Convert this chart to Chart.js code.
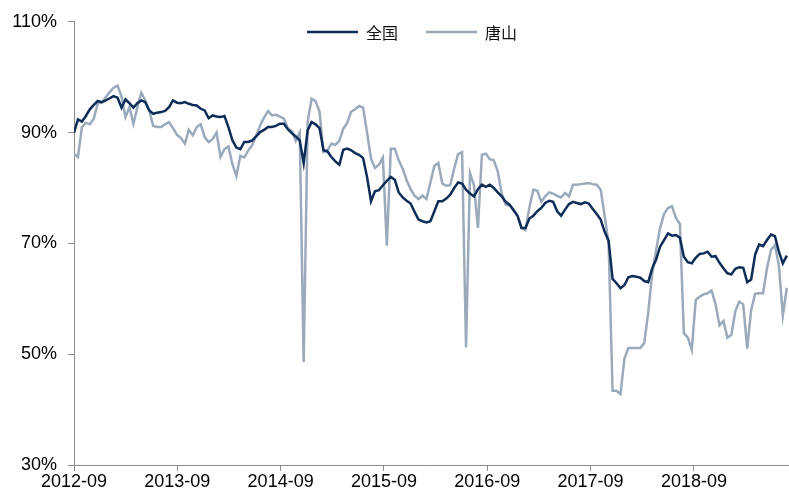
<!DOCTYPE html>
<html lang="zh">
<head>
    <meta charset="UTF-8">
    <title>开工率：全国 vs 唐山</title>
    <script src="https://cdn.jsdelivr.net/npm/chart.js"></script>
    <style>
        html, body {
            margin: 0;
            padding: 0;
            background: #ffffff;
        }
        .wrap {
            width: 789px;
            height: 497px;
            position: relative;
        }
    </style>
</head>
<body>
    <div class="wrap">
        <canvas id="rateChart" width="789" height="497"></canvas>
    </div>

    <script>
        // biweekly readings (%), starting 2012-09
        const quanguo = [
            90.0, 92.4, 92.0, 93.0, 94.2, 95.0, 95.7, 95.5, 95.8, 96.2,
            96.6, 96.3, 94.5, 96.0, 95.3, 94.5, 95.3, 95.8, 95.5, 94.0,
            93.4, 93.6, 93.7, 93.9, 94.6, 95.8, 95.4, 95.3, 95.5, 95.2,
            95.0, 94.9, 94.3, 94.0, 92.6, 93.1, 92.9, 92.8, 93.0, 91.0,
            88.6, 87.3, 87.0, 88.3, 88.3, 88.6, 89.3, 90.1, 90.5, 91.0,
            91.0, 91.2, 91.6, 91.6, 90.6, 89.9, 89.3, 88.6, 84.5, 90.4,
            91.9, 91.5, 90.8, 86.8, 86.6, 85.6, 84.8, 84.2, 86.9, 87.1,
            86.8, 86.3, 86.0, 85.4, 82.0, 77.6, 79.4, 79.6, 80.5, 81.3,
            82.0, 81.5, 79.2, 78.3, 77.7, 77.2, 75.7, 74.3, 74.0, 73.8,
            74.0, 75.8, 77.6, 77.6, 78.1, 78.8, 80.0, 81.0, 80.8, 79.7,
            79.0, 78.5, 79.8, 80.6, 80.2, 80.6, 80.0, 79.2, 78.5, 77.5,
            77.0, 76.0, 75.0, 72.8, 72.8, 74.5, 75.0, 75.8, 76.4, 77.3,
            77.7, 77.5, 75.8, 75.0, 76.1, 77.1, 77.5, 77.3, 77.1, 77.4,
            77.2, 76.2, 75.3, 74.3, 72.1, 70.5, 63.6, 62.8, 61.9, 62.5,
            63.9, 64.1, 64.0, 63.8, 63.2, 63.0, 65.5, 67.1, 69.4, 70.6,
            71.8, 71.4, 71.5, 71.0, 67.6, 66.6, 66.4, 67.4, 68.1, 68.2,
            68.5, 67.6, 67.7, 66.5, 65.5, 64.6, 64.4, 65.4, 65.7, 65.6,
            63.0, 63.5, 68.0, 69.8, 69.5, 70.6, 71.6, 71.3, 68.5, 66.4,
            67.8
        ];

        const tangshan = [
            86.2, 85.6, 91.0, 91.8, 91.5, 92.5, 95.3, 95.4, 96.4, 97.3,
            98.1, 98.5, 96.5, 92.8, 94.6, 91.6, 94.5, 97.2, 95.8, 94.0,
            91.2, 91.0, 91.0, 91.5, 91.9, 90.8, 89.6, 89.0, 88.0, 90.5,
            89.5, 91.0, 91.5, 89.2, 88.3, 88.8, 90.0, 85.6, 87.0, 87.5,
            84.3, 82.2, 85.8, 85.5, 86.8, 87.7, 89.5, 91.3, 92.7, 93.9,
            93.1, 93.2, 92.9, 92.5, 90.8, 90.3, 88.5, 90.0, 48.6, 92.0,
            96.1, 95.7, 93.8, 86.5, 86.8, 88.0, 87.8, 88.5, 90.7, 91.8,
            93.8, 94.2, 94.8, 94.5, 90.0, 85.3, 83.6, 84.2, 85.5, 69.6,
            87.1, 87.1, 85.0, 83.5, 81.4, 79.8, 78.6, 78.0, 78.6, 78.0,
            81.0, 84.0, 84.5, 80.8, 80.4, 80.5, 83.5, 86.1, 86.5, 51.2,
            82.7, 80.5, 72.8, 86.0, 86.2, 85.2, 85.0, 83.0, 79.0, 77.0,
            76.8, 76.1, 75.0, 72.8, 72.4, 76.5, 79.7, 79.5, 77.5, 78.5,
            79.2, 79.0, 78.6, 78.3, 79.1, 78.5, 80.6, 80.6, 80.7, 80.8,
            80.9, 80.7, 80.6, 79.7, 75.0, 70.0, 43.4, 43.4, 42.8, 49.2,
            51.1, 51.1, 51.1, 51.1, 52.0, 57.5, 64.5, 68.8, 72.8, 75.3,
            76.4, 76.7, 74.6, 73.5, 53.8, 53.0, 50.8, 59.8, 60.4, 60.8,
            61.0, 61.5, 59.0, 55.2, 56.0, 53.0, 53.5, 57.8, 59.5, 59.0,
            51.0, 58.0, 60.9, 61.0, 61.0, 65.5, 68.8, 69.7, 66.0, 57.0,
            62.0
        ];

        const tickLabels = ['2012-09', '2013-09', '2014-09', '2015-09', '2016-09', '2017-09', '2018-09'];
        const stepsPerYear = 26.09; // biweekly points in one year

        const navy = '#0d2c57';
        const grey = '#9aaabb';
        const axisGrey = '#8c8c8c';
        const tickFont = { family: "'Liberation Sans', Arial, sans-serif", size: 18 };

        // legend drawn inside the plot, slightly left of centre
        const insideLegend = {
            id: 'insideLegend',
            afterDraw(chart) {
                const ctx = chart.ctx;
                let x = 307;
                const y = 32;
                ctx.save();
                ctx.font = "16px 'Noto Sans CJK SC', sans-serif";
                ctx.textBaseline = 'middle';
                chart.data.datasets.forEach(ds => {
                    ctx.strokeStyle = ds.borderColor;
                    ctx.lineWidth = 2.5;
                    ctx.beginPath();
                    ctx.moveTo(x, y);
                    ctx.lineTo(x + 51, y);
                    ctx.stroke();
                    ctx.fillStyle = '#111';
                    ctx.fillText(ds.label, x + 59, y + 1);
                    x += 59 + ctx.measureText(ds.label).width + 28;
                });
                ctx.restore();
            }
        };

        const ctx = document.getElementById('rateChart').getContext('2d');
        new Chart(ctx, {
            type: 'line',
            data: {
                labels: quanguo.map((_, i) => i),
                datasets: [
                    {
                        label: '全国',
                        data: quanguo,
                        borderColor: navy,
                        backgroundColor: navy,
                        borderWidth: 2.5,
                        pointRadius: 0,
                        tension: 0,
                        fill: false
                    },
                    {
                        label: '唐山',
                        data: tangshan,
                        borderColor: grey,
                        backgroundColor: grey,
                        borderWidth: 2.5,
                        pointRadius: 0,
                        tension: 0,
                        fill: false
                    }
                ]
            },
            options: {
                responsive: false,
                animation: false,
                layout: {
                    padding: { top: 17, right: 1, left: 0, bottom: 0 }
                },
                scales: {
                    x: {
                        type: 'linear',
                        min: 0,
                        max: 180.3,
                        afterBuildTicks: scale => {
                            scale.ticks = tickLabels.map((_, i) => ({ value: i * stepsPerYear }));
                        },
                        afterFit: scale => { scale.height = 32; },
                        ticks: {
                            autoSkip: false,
                            maxRotation: 0,
                            padding: 0,
                            color: '#000',
                            font: tickFont,
                            callback: (value, index) => tickLabels[index]
                        },
                        grid: {
                            display: true,
                            drawOnChartArea: false,
                            drawTicks: true,
                            tickLength: 6,
                            color: axisGrey
                        },
                        border: { color: axisGrey, width: 1 }
                    },
                    y: {
                        min: 30,
                        max: 110,
                        afterFit: scale => { scale.width = 74; },
                        ticks: {
                            stepSize: 20,
                            padding: 11,
                            color: '#000',
                            font: tickFont,
                            callback: value => value + '%'
                        },
                        grid: {
                            display: true,
                            drawOnChartArea: false,
                            drawTicks: true,
                            tickLength: 6,
                            color: axisGrey
                        },
                        border: { color: axisGrey, width: 1 }
                    }
                },
                plugins: {
                    legend: { display: false },
                    tooltip: { enabled: false }
                }
            },
            plugins: [insideLegend]
        });
    </script>
</body>
</html>
